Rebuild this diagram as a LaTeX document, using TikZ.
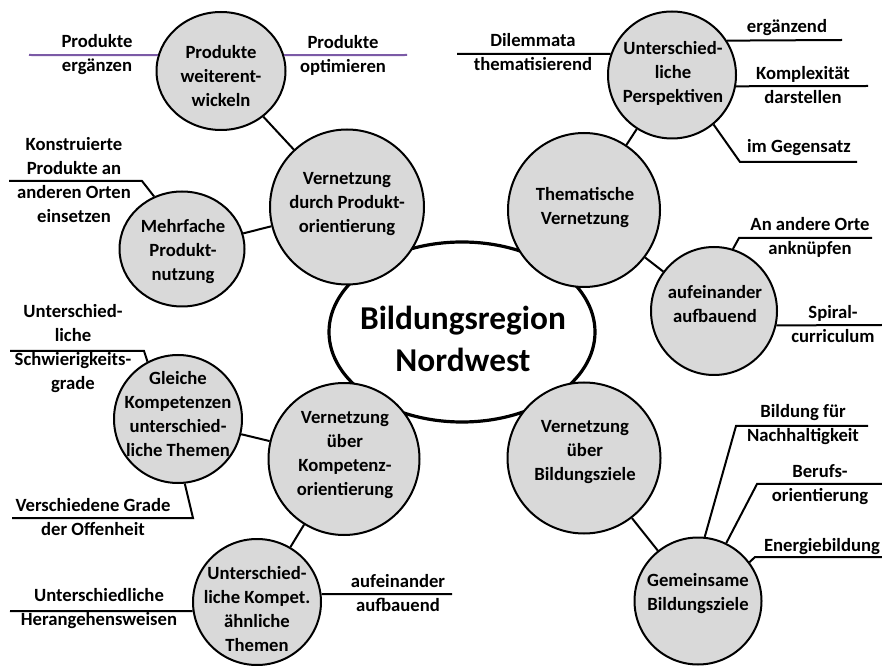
\documentclass[tikz,border=0pt]{standalone}
\usepackage{fontspec}
\setmainfont{Carlito}
\usepackage{xcolor}
\usepackage{tikz}
\usetikzlibrary{shapes.geometric, positioning}
\definecolor{bubfill}{HTML}{D9D9D9}
\definecolor{prodline}{HTML}{7B5AA6}

\begin{document}
\begin{tikzpicture}[
    x=0.75pt, y=-0.75pt,
    font=\fontsize{14}{18}\selectfont\bfseries,
    bub/.style 2 args={ellipse, draw, fill=bubfill, line width=1.5pt,
                       minimum width=#1*0.75pt, minimum height=#2*0.75pt,
                       inner sep=0pt},
    hub/.style={ellipse, draw, fill=white, line width=2.4pt,
                minimum width=266*0.75pt, minimum height=180*0.75pt,
                inner sep=0pt},
    txt/.style={align=center, inner sep=0pt},
    link/.style={line width=1.5pt},
    leaf/.style={line width=1.5pt, draw=#1},
    leaf/.default=black
]
\useasboundingbox (0,0) rectangle (882,666);

% centre
\node[hub] (hub) at (462,332) {};
\node[txt, font=\fontsize{25}{31}\selectfont\bfseries]
    (hubt) at (463,339) {Bildungsregion\\Nordwest};

% bubbles
\node[bub={129}{118}] (weiter)  at (221,71)  {};
\node[bub={154}{155}] (produkt) at (347,207) {};
\node[bub={125}{115}] (mehrf)   at (182,249) {};
\node[bub={128}{127}] (persp)   at (672,75)  {};
\node[bub={152}{154}] (thema)   at (584,210) {};
\node[bub={126}{128}] (aufbau)  at (714,311) {};
\node[bub={128}{128}] (gleich)  at (178,419) {};
\node[bub={151}{152}] (kompet)  at (344,459) {};
\node[bub={128}{126}] (aehnl)   at (257,602) {};
\node[bub={153}{151}] (ziele)   at (584,458) {};
\node[bub={127}{127}] (gemein)  at (698,601) {};

\node[txt] (weitert)  at (221,76)  {Produkte\\weiterent-\\wickeln};
\node[txt] (produktt) at (347,204) {Vernetzung\\durch Produkt-\\orientierung};
\node[txt] (mehrft)   at (183,252) {Mehrfache\\Produkt-\\nutzung};
\node[txt] (perspt)   at (673,73)  {Unterschied-\\liche\\Perspektiven};
\node[txt] (themat)   at (585,208) {Thematische\\Vernetzung};
\node[txt] (aufbaut)  at (715,304) {aufeinander\\aufbauend};
\node[txt] (gleicht)  at (178,414) {Gleiche\\Kompetenzen\\unterschied-\\liche Themen};
\node[txt] (kompett)  at (345,455) {Vernetzung\\über\\Kompetenz-\\orientierung};
\node[txt] (aehnlt)   at (257,609) {Unterschied-\\liche Kompet.\\ähnliche\\Themen};
\node[txt] (zielet)   at (585,452) {Vernetzung\\über\\Bildungsziele};
\node[txt] (gemeint)  at (698,594) {Gemeinsame\\Bildungsziele};

\draw[link] (weiter) -- (produkt);
\draw[link] (mehrf)  -- (produkt);
\draw[link] (persp)  -- (thema);
\draw[link] (thema)  -- (aufbau);
\draw[link] (gleich) -- (kompet);
\draw[link] (kompet) -- (aehnl);
\draw[link] (ziele)  -- (gemein);

% branch ends
\coordinate (pErg)  at (29,55);
\coordinate (pOpt)  at (407,55);
\coordinate (kon1)  at (142,181);
\coordinate (kon2)  at (9,181);
\coordinate (sch1)  at (144,351);
\coordinate (sch2)  at (10,351);
\coordinate (off1)  at (193,518);
\coordinate (off2)  at (12,518);
\coordinate (her)   at (10,611);
\coordinate (aufb)  at (452,594);
\coordinate (dil)   at (457,54);
\coordinate (erg)   at (842,40);
\coordinate (kom)   at (868,86);
\coordinate (geg1)  at (740,162);
\coordinate (geg2)  at (857,162);
\coordinate (ort1)  at (739,238);
\coordinate (ort2)  at (872,238);
\coordinate (spi)   at (882,325);
\coordinate (nach1) at (736,426);
\coordinate (nach2) at (868,426);
\coordinate (ber1)  at (757,484);
\coordinate (ber2)  at (882,484);
\coordinate (ene1)  at (755,557);
\coordinate (ene2)  at (882,557);

\draw[leaf=prodline] (weiter.166) -- (pErg);
\draw[leaf=prodline] (weiter.14)  -- (pOpt);
\draw[leaf] (mehrf.118)  -- (kon1) -- (kon2);
\draw[leaf] (gleich.118) -- (sch1) -- (sch2);
\draw[leaf] (gleich.276) -- (off1) -- (off2);
\draw[leaf] (aehnl.188)  -- (her);
\draw[leaf] (aehnl.7)    -- (aufb);
\draw[leaf] (persp.161)  -- (dil);
\draw[leaf] (persp.32)   -- (erg);
\draw[leaf] (persp.350)  -- (kom);
\draw[leaf] (persp.310)  -- (geg1) -- (geg2);
\draw[leaf] (aufbau.73)  -- (ort1) -- (ort2);
\draw[leaf] (aufbau.347) -- (spi);
\draw[leaf] (gemein.84)  -- (nach1) -- (nach2);
\draw[leaf] (gemein.64)  -- (ber1) -- (ber2);
\draw[leaf] (gemein.37)  -- (ene1) -- (ene2);

\node[txt] (tErg)  at (97,55)   {Produkte\\ergänzen};
\node[txt] (tOpt)  at (343,55)  {Produkte\\optimieren};
\node[txt] (tKon)  at (74,180)  {Konstruierte\\Produkte an\\anderen Orten\\einsetzen};
\node[txt] (tSch)  at (73,349)  {Unterschied-\\liche\\Schwierigkeits-\\grade};
\node[txt] (tOff)  at (93,517)  {Verschiedene Grade\\der Offenheit};
\node[txt] (tHer)  at (99,609)  {Unterschiedliche\\Herangehensweisen};
\node[txt] (tAufb) at (398,593) {aufeinander\\aufbauend};
\node[txt] (tDil)  at (533,52)  {Dilemmata\\thematisierend};
\node[txt] (tErgd) at (787,28)  {ergänzend};
\node[txt] (tKom)  at (803,85)  {Komplexität\\darstellen};
\node[txt] (tGeg)  at (799,148) {im Gegensatz};
\node[txt] (tOrt)  at (810,237) {An andere Orte\\anknüpfen};
\node[txt] (tSpi)  at (833,324) {Spiral-\\curriculum};
\node[txt] (tNach) at (803,425) {Bildung für\\Nachhaltigkeit};
\node[txt] (tBer)  at (820,485) {Berufs-\\orientierung};
\node[txt] (tEne)  at (822,547) {Energiebildung};
\end{tikzpicture}
\end{document}
